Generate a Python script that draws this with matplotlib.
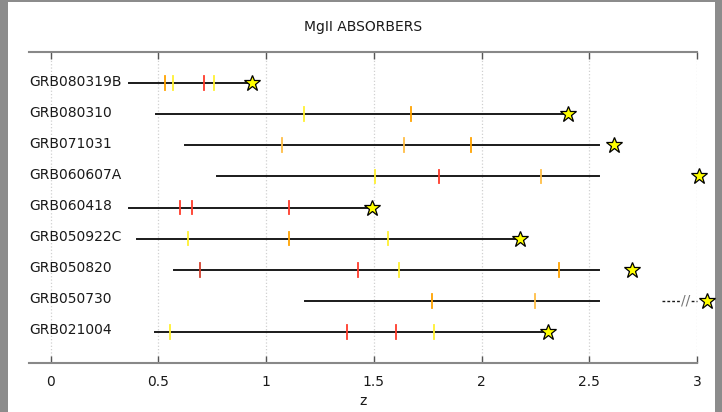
import matplotlib
matplotlib.use('Agg')
import matplotlib.pyplot as plt
from matplotlib.patches import Rectangle

# GRB sight lines, top to bottom
grb_names = ['GRB080319B', 'GRB080310', 'GRB071031', 'GRB060607A', 'GRB060418',
             'GRB050922C', 'GRB050820', 'GRB050730', 'GRB021004']
z_start = [0.366, 0.488, 0.626, 0.773, 0.365, 0.399, 0.573, 1.181, 0.485]
z_end = [0.937, 2.403, 2.547, 2.547, 1.493, 2.180, 2.547, 2.547, 2.307]
z_grb = [0.937, 2.403, 2.615, 3.009, 1.493, 2.180, 2.700, 3.046, 2.307]

# MgII absorbers along each sight line
abs_z = [
    [0.530, 0.566, 0.712, 0.760],
    [1.178, 1.671],
    [1.074, 1.640, 1.949],
    [1.508, 1.802, 2.275],
    [0.603, 0.657, 1.107],
    [0.638, 1.107, 1.567],
    [0.692, 1.427, 1.618, 2.358],
    [1.771, 2.250],
    [0.556, 1.377, 1.601, 1.780],
]
abs_kind = [
    ['orange', 'yellow', 'red', 'yellow'],
    ['yellow', 'orange'],
    ['light', 'light', 'orange'],
    ['yellow', 'red', 'light'],
    ['red', 'red', 'red'],
    ['yellow', 'orange', 'yellow'],
    ['dark', 'red', 'yellow', 'orange'],
    ['orange', 'light'],
    ['yellow', 'red', 'red', 'yellow'],
]
# GRB050730 lies beyond the break
break_start = 2.836
break_mark = 2.945

xticks = [0, 0.5, 1, 1.5, 2, 2.5, 3]
xtick_labels = ['0', '0.5', '1', '1.5', '2', '2.5', '3']

kind_colors = {'red': '#ff3a2a', 'dark': '#d2402e', 'orange': '#ffa200',
               'light': '#ffbe45', 'yellow': '#fff030'}

fig = plt.figure(figsize=(7.22, 4.12), dpi=100, facecolor='#8c8c8c')
fig.patches.append(Rectangle((8 / 722, 0), 707 / 722, 410 / 412, transform=fig.transFigure,
                             facecolor='white', edgecolor='none', zorder=-10))
ax = fig.add_axes([29 / 722, 49 / 412, 668 / 722, 311 / 412])
ax.set_facecolor('white')

n = len(grb_names)
for i, name in enumerate(grb_names):
    y = n - i
    ax.plot([z_start[i], z_end[i]], [y, y], color='#1a1a1a', lw=1.4, zorder=2)
    for z, k in zip(abs_z[i], abs_kind[i]):
        ax.plot([z, z], [y - 0.22, y + 0.22], color=kind_colors[k], lw=1.3, zorder=3)
    ax.plot(z_grb[i], y, marker='*', markersize=12, markerfacecolor='#ffff00',
            markeredgecolor='black', markeredgewidth=0.9, clip_on=False, zorder=5)
    ax.text(-0.1, y + 0.05, name, ha='left', va='center', fontsize=10, color='#1a1a1a')
    if name == 'GRB050730':
        ax.plot([break_start, 3.0], [y, y], color='#1a1a1a', lw=1.0, ls=(0, (2, 1.5)),
                clip_on=False, zorder=2)
        ax.text(break_mark, y, '//', ha='center', va='center', fontsize=10,
                color='#777777', zorder=4,
                bbox=dict(facecolor='white', edgecolor='none', pad=0.2))

ax.set_xlim(-0.1, 3.0)
ax.set_ylim(0, 10)
ax.set_xticks(xticks)
ax.set_xticklabels(xtick_labels, fontsize=10, color='#1a1a1a')
ax.set_yticks([])
ax.tick_params(axis='x', direction='in', top=True, bottom=True, length=5,
               color='#555555', width=1, pad=9)
ax.grid(axis='x', color='#d0d0d0', ls=':', lw=0.9)
for side in ['left', 'right']:
    ax.spines[side].set_visible(False)
for side in ['top', 'bottom']:
    ax.spines[side].set_color('#888888')
    ax.spines[side].set_linewidth(1.5)

ax.set_title('MgII ABSORBERS', fontsize=10, color='#1a1a1a', pad=15)
ax.set_xlabel('z', fontsize=10, color='#1a1a1a', labelpad=3)

fig.savefig('out.png', dpi=100, facecolor=fig.get_facecolor())
